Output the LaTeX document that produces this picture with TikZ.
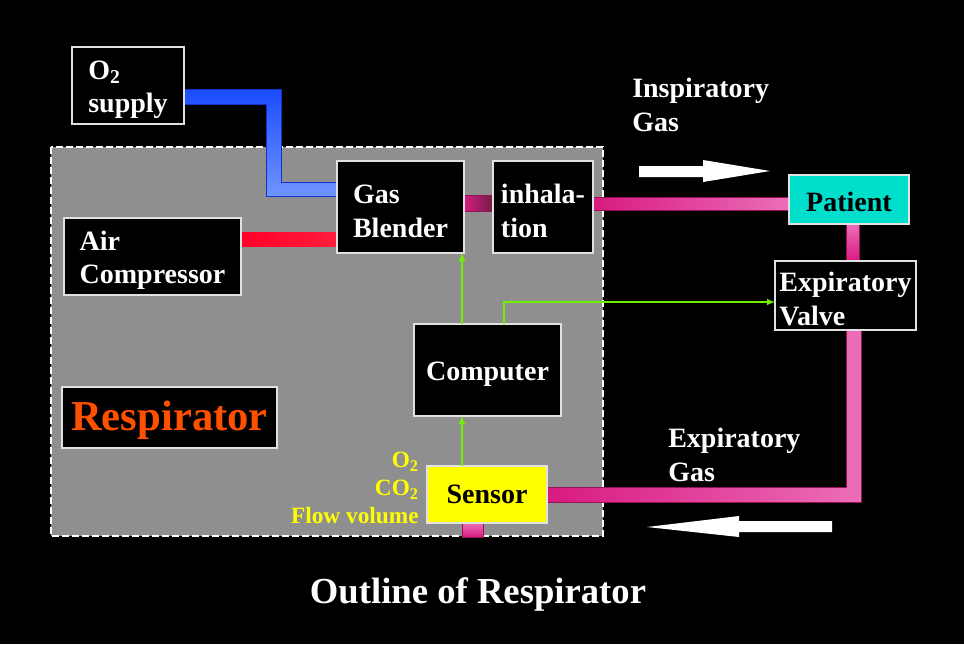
\documentclass[tikz,border=0pt]{standalone}
\usepackage{fontspec}
\setmainfont{Liberation Serif}
\usetikzlibrary{calc,arrows.meta}
\definecolor{areagray}{RGB}{143,143,143}
\definecolor{boxline}{RGB}{225,225,225}
\definecolor{patcyan}{RGB}{0,222,204}
\definecolor{resporange}{RGB}{255,80,0}
\definecolor{siggreen}{RGB}{112,240,0}
\definecolor{labyellow}{RGB}{255,255,0}
\definecolor{blueA}{RGB}{26,76,255}
\definecolor{blueB}{RGB}{112,148,255}
\definecolor{blueEdge}{RGB}{20,50,200}
\definecolor{redA}{RGB}{255,0,40}
\definecolor{redB}{RGB}{255,30,60}
\definecolor{pinkA}{RGB}{216,26,128}
\definecolor{pinkB}{RGB}{236,110,184}
\definecolor{pinkDark}{RGB}{110,30,70}
\definecolor{pinkEdge}{RGB}{150,20,85}
\newcommand\subtwo{\textsubscript{2}}
\newcommand\pushdn[1]{\rule{0pt}{#1}}
\pgfdeclarelayer{back}
\pgfdeclarelayer{pipes}
\pgfsetlayers{back,pipes,main}
\begin{document}
\begin{tikzpicture}[x=0.75pt,y=-0.75pt,
  box/.style={draw=boxline, line width=1pt, fill=black, text=white,
    inner sep=0pt, outer sep=0pt, align=left,
    font=\bfseries\fontsize{21}{25.2}\selectfont},
  sz/.style 2 args={minimum width=#1*0.75pt, minimum height=#2*0.75pt},
  lbl/.style={text=white, align=left, inner sep=0pt,
    font=\bfseries\fontsize{21}{25.2}\selectfont},
  sig/.style={draw=siggreen, line width=1pt, -{Latex[length=6pt,width=5pt]}},
  pipeline/.style={draw=pinkEdge, line width=0.5pt}]
\begin{pgfonlayer}{back}
\fill[black] (0,0) rectangle (964,644);
\filldraw[fill=areagray, draw=white, dash pattern=on 5pt off 2.5pt, line width=0.9pt] (51,147) rectangle (603,536);
\end{pgfonlayer}
\useasboundingbox (0,0) rectangle (964,644);

% boxes
\node[box, sz={112}{77}] (o2) at (128,85.5) {\pushdn{20pt}O\subtwo\\supply};
\node[box, sz={177}{77}] (air) at (152.5,256.5) {\pushdn{20pt}Air\\Compressor};
\node[box, sz={127}{92}] (blend) at (400.5,207) {\pushdn{20pt}Gas\\Blender};
\node[box, sz={100}{92}] (inh) at (543,207) {\pushdn{20pt}inhala-\\tion};
\node[box, sz={120}{49}, fill=patcyan, text=black] (pat) at (849,199.5) {\pushdn{18.5pt}Patient};
\node[box, sz={141}{69}] (valve) at (845.5,295.5) {\pushdn{20pt}Expiratory\\Valve};
\node[box, sz={147}{92}] (comp) at (487.5,370) {\pushdn{19.5pt}Computer};
\node[box, sz={120}{57}, fill=labyellow, text=black] (sens) at (487,494.5) {Sensor};
\node[box, sz={215}{61}, text=resporange, font=\bfseries\fontsize{32}{38}\selectfont] (resp) at (169.5,417.5) {\pushdn{27pt}Respirator};

% labels
\node[lbl, anchor=north west] (insp) at (632,78) {Inspiratory\\Gas};
\node[lbl, anchor=north west] (expg) at (668,428) {Expiratory\\Gas};
\node[anchor=north east, text=labyellow, align=right, inner sep=0pt,
  font=\bfseries\fontsize{17.5}{21}\selectfont] (slab) at (419,452) {O\subtwo\\CO\subtwo\\Flow volume};
\node[text=white, inner sep=0pt, anchor=base, font=\bfseries\fontsize{27.5}{33}\selectfont] (title) at (478,603) {Outline of Respirator};

% pipes
\begin{pgfonlayer}{pipes}
\shadedraw[top color=blueA, bottom color=blueB, draw=blueEdge, line width=0.5pt]
  ($(o2.east)+(0,3.5)$) -- (281,89) -- (281,182) -- ($(blend.west)+(0,-25)$)
  -- ($(blend.west)+(0,-11)$) -- (266,196) -- (266,104) -- ($(o2.east)+(0,18.5)$) -- cycle;
\shade[left color=redA, right color=redB] ($(air.east)+(0,-24.5)$) rectangle ($(blend.west)+(0,39)$);
\shadedraw[pipeline, left color=pinkA, right color=pinkDark] ($(blend.east)+(0,-12)$) rectangle ($(inh.west)+(0,4)$);
\shadedraw[pipeline, left color=pinkA, right color=pinkB] ($(inh.east)+(0,-10)$) rectangle ($(pat.west)+(0,10.5)$);
\shadedraw[pipeline, top color=pinkB, bottom color=pinkA] ($(pat.south)+(-3,0)$) rectangle ($(valve.north)+(13.5,0)$);
\shadedraw[pipeline, left color=pinkA, right color=pinkB]
  ($(valve.south)+(0.5,0)$) -- ($(valve.south)+(15.5,0)$) -- (861,502)
  -- ($(sens.east)+(0,7.5)$) -- ($(sens.east)+(0,-7.5)$) -- (846,487) -- cycle;
\shadedraw[pipeline, top color=pinkB, bottom color=pinkA] ($(sens.south)+(-25,0)$) rectangle ($(sens.south)+(-4,14)$);
\end{pgfonlayer}

% flow arrows
\fill[white] (639,166) -- (703,166) -- (703,160) -- (770,171) -- (703,182) -- (703,177) -- (639,177) -- cycle;
\fill[white] (832,521) -- (739,521) -- (739,516) -- (647,527) -- (739,537) -- (739,532) -- (832,532) -- cycle;

% signal lines
\draw[sig] ($(sens.north)+(-25,0)$) -- ($(comp.south)+(-25.5,0)$);
\draw[sig] ($(comp.north)+(-25.5,0)$) -- ($(blend.south)+(61.5,0)$);
\draw[sig] ($(comp.north)+(16.5,0)$) |- ($(valve.west)+(0,6.5)$);
\end{tikzpicture}
\end{document}
